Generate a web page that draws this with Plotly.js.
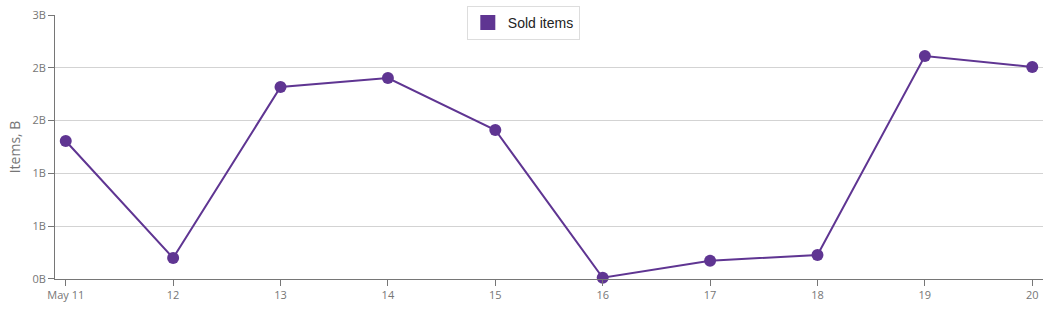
<!DOCTYPE html>
<html>
<head>
<meta charset="utf-8">
<script src="https://cdn.plot.ly/plotly-3.0.1.min.js"></script>
<style>html,body{margin:0;padding:0;background:#fff;}#chart{width:1059px;height:321px;}</style>
</head>
<body>
<div id="chart"></div>
<script>
const categories = ["May 11", "12", "13", "14", "15", "16", "17", "18", "19", "20"];
const soldItems = [1.307, 0.199, 1.818, 1.903, 1.411, 0.012, 0.173, 0.227, 2.112, 2.008];
const seriesName = "Sold items";
const yTickVals = [0, 0.5, 1, 1.5, 2, 2.5];
const yTickText = ["0B", "1B", "1B", "2B", "2B", "3B"];
const yTitle = "Items, B";

const purple = "#5f3592";
const tickFont = {family: "Open Sans, Noto Sans, sans-serif", size: 11, color: "#767676"};

const traces = [
  {
    x: categories, y: soldItems, type: "scatter", mode: "lines+markers",
    line: {color: purple, width: 2}, marker: {color: purple, size: 12},
    name: seriesName, showlegend: false, cliponaxis: false
  },
  {
    x: [null], y: [null], type: "scatter", mode: "markers",
    marker: {color: purple, size: 15, symbol: "square"},
    name: seriesName, showlegend: true
  }
];

const layout = {
  width: 1059, height: 321,
  margin: {l: 55, r: 16, t: 6, b: 42},
  paper_bgcolor: "#fff", plot_bgcolor: "#fff",
  showlegend: true,
  legend: {
    x: 0.474, y: 1, xanchor: "center", yanchor: "top",
    bgcolor: "#fff", bordercolor: "#dddddd", borderwidth: 1,
    font: {family: "Liberation Sans, Arial, sans-serif", size: 14, color: "#232323"},
    itemwidth: 30, tracegroupgap: 0
  },
  xaxis: {
    type: "category", range: [-0.1, 9.1],
    showgrid: false, zeroline: false,
    showline: true, linecolor: "#767676", linewidth: 1,
    ticks: "outside", ticklen: 6, tickcolor: "#767676", tickwidth: 1,
    tickfont: tickFont, fixedrange: true
  },
  yaxis: {
    range: [0, 2.5], domain: [0, 0.967],
    tickvals: yTickVals, ticktext: yTickText,
    showgrid: true, gridcolor: "#d3d3d3", gridwidth: 1, zeroline: false,
    showline: true, linecolor: "#767676", linewidth: 1,
    ticks: "outside", ticklen: 6, tickcolor: "#767676", tickwidth: 1,
    tickfont: tickFont,
    title: {text: yTitle, font: {family: "Open Sans, Noto Sans, sans-serif", size: 14, color: "#767676"}, standoff: 8},
    fixedrange: true
  }
};

Plotly.newPlot("chart", traces, layout, {displayModeBar: false, staticPlot: true});
</script>
</body>
</html>
